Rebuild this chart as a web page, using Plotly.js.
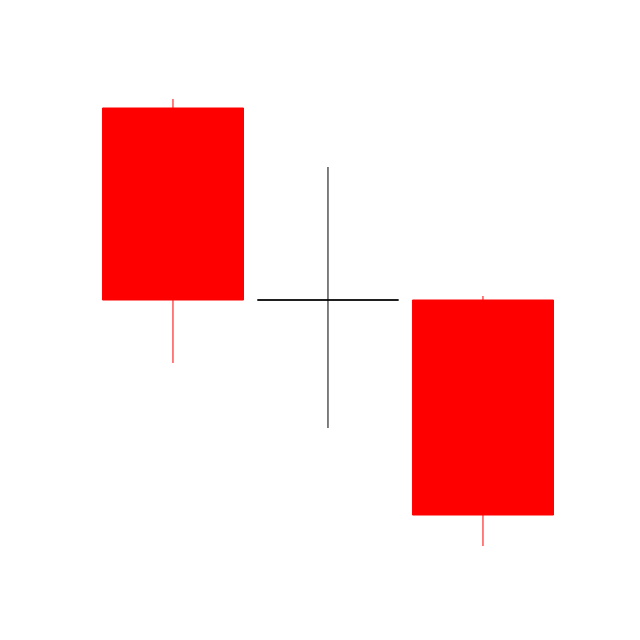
<!DOCTYPE html>
<html>
<head>
<meta charset="utf-8">
<script src="https://cdn.plot.ly/plotly-3.0.1.min.js"></script>
<style>html,body{margin:0;padding:0;background:#fff;}#chart{width:640px;height:640px;}</style>
</head>
<body>
<div id="chart"></div>
<script>
// Bearish candles
const redX = [0, 2];
const redOpen = [53.2, 34.0];
const redHigh = [54.1, 34.4];
const redLow = [27.7, 9.4];
const redClose = [34.0, 12.5];
// Doji candle
const dojiX = [1];
const dojiOpen = [34.0];
const dojiHigh = [47.3];
const dojiLow = [21.2];
const dojiClose = [34.0];

const red = {
  type: 'candlestick', x: redX, open: redOpen, high: redHigh, low: redLow, close: redClose,
  increasing: {line: {color: '#ff0000', width: 1}, fillcolor: '#ff0000'},
  decreasing: {line: {color: '#ff0000', width: 1}, fillcolor: '#ff0000'},
  showlegend: false, hoverinfo: 'skip'
};
const doji = {
  type: 'candlestick', x: dojiX, open: dojiOpen, high: dojiHigh, low: dojiLow, close: dojiClose,
  increasing: {line: {color: '#000000', width: 1}, fillcolor: '#000000'},
  decreasing: {line: {color: '#000000', width: 1}, fillcolor: '#000000'},
  showlegend: false, hoverinfo: 'skip'
};
const layout = {
  width: 640, height: 640,
  margin: {l: 0, r: 0, t: 0, b: 0},
  paper_bgcolor: '#ffffff', plot_bgcolor: '#ffffff',
  boxgap: 0.09, boxgroupgap: 0,
  xaxis: {range: [-1.116, 3.013], visible: false, rangeslider: {visible: false}, showgrid: false, zeroline: false},
  yaxis: {range: [0, 64], visible: false, showgrid: false, zeroline: false},
  showlegend: false
};
Plotly.newPlot('chart', [red, doji], layout, {displayModeBar: false, staticPlot: true});
</script>
</body>
</html>
